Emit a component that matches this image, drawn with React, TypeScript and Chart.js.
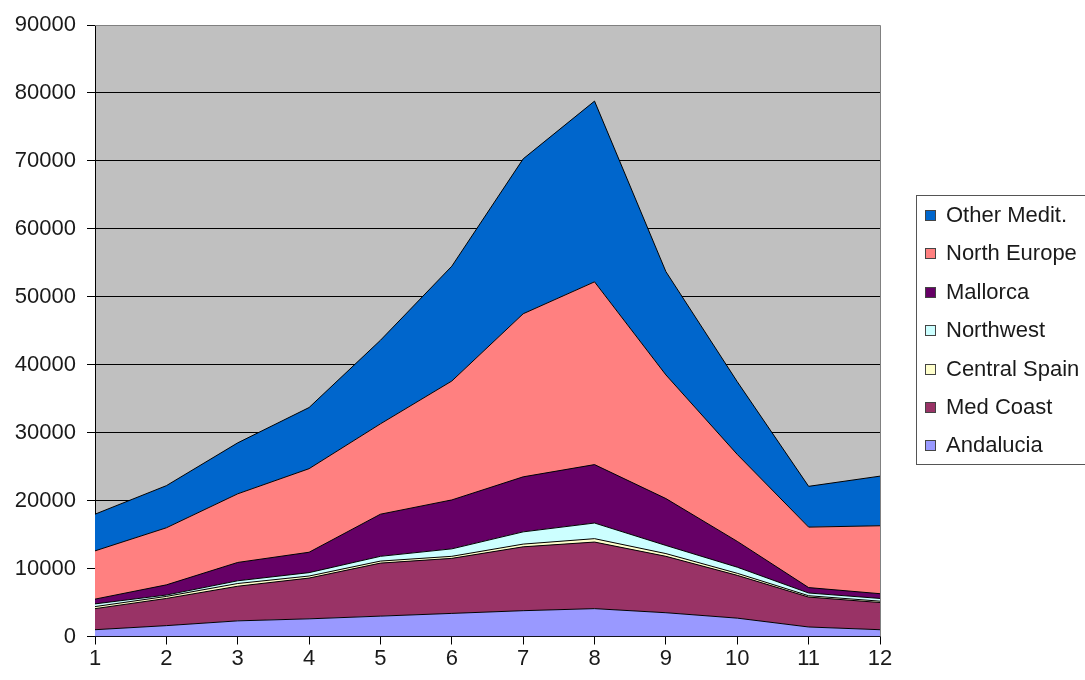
import React, { useEffect, useRef } from "react";
import { Chart, registerables } from "chart.js";

Chart.register(...registerables);

const categories = ["1", "2", "3", "4", "5", "6", "7", "8", "9", "10", "11", "12"];

const andalucia = [1000, 1600, 2300, 2600, 3000, 3400, 3800, 4100, 3500, 2700, 1400, 1000];
const medCoast = [3100, 4000, 5100, 6000, 7800, 8100, 9400, 9800, 8300, 6300, 4400, 4000];
const centralSpain = [300, 300, 400, 300, 300, 300, 400, 500, 400, 300, 200, 200];
const northwest = [400, 200, 400, 500, 700, 1100, 1800, 2300, 1200, 900, 400, 400];
const mallorca = [700, 1500, 2700, 3000, 6200, 7200, 8100, 8600, 6900, 3800, 800, 700];
const northEurope = [7100, 8400, 10100, 12300, 13300, 17500, 24000, 26900, 18200, 12800, 8900, 10000];
const otherMedit = [5400, 6200, 7500, 9000, 12300, 16900, 22800, 26600, 15200, 10700, 6000, 7300];

const seriesNames = ["Andalucia", "Med Coast", "Central Spain", "Northwest", "Mallorca", "North Europe", "Other Medit."];
const seriesData = [andalucia, medCoast, centralSpain, northwest, mallorca, northEurope, otherMedit];
const seriesColors = ["#9999FF", "#993366", "#FFFFCC", "#CCFFFF", "#660066", "#FF8080", "#0066CC"];

const yTicks = [0, 10000, 20000, 30000, 40000, 50000, 60000, 70000, 80000, 90000];

const FONT = "'Liberation Sans', Arial, sans-serif";

export default function App() {
  const ref = useRef<HTMLCanvasElement>(null);

  useEffect(() => {
    if (!ref.current) return;

    const plotPlugin = {
      id: "plotDecor",
      beforeDraw(chart: any) {
        const { ctx, chartArea } = chart;
        ctx.save();
        ctx.fillStyle = "#FFFFFF";
        ctx.fillRect(0, 0, chart.width, chart.height);
        ctx.fillStyle = "#C0C0C0";
        ctx.fillRect(chartArea.left, chartArea.top, chartArea.right - chartArea.left, chartArea.bottom - chartArea.top);
        ctx.restore();
      },
      afterDraw(chart: any) {
        const { ctx, chartArea } = chart;
        ctx.save();
        // top and right plot border
        ctx.strokeStyle = "#808080";
        ctx.lineWidth = 1;
        ctx.beginPath();
        ctx.moveTo(chartArea.left, Math.round(chartArea.top) + 0.5);
        ctx.lineTo(Math.round(chartArea.right) + 0.5, Math.round(chartArea.top) + 0.5);
        ctx.lineTo(Math.round(chartArea.right) + 0.5, chartArea.bottom);
        ctx.stroke();

        // legend
        const boxX = 916.5;
        const boxY = 195.5;
        const boxH = 269;
        ctx.fillStyle = "#FFFFFF";
        ctx.fillRect(boxX, boxY, 300, boxH);
        ctx.strokeStyle = "#555555";
        ctx.strokeRect(boxX, boxY, 300, boxH);
        ctx.font = `22px ${FONT}`;
        ctx.textBaseline = "middle";
        ctx.textAlign = "left";
        const n = seriesNames.length;
        for (let i = 0; i < n; i++) {
          const idx = n - 1 - i;
          const cy = 215 + i * 38.4;
          ctx.fillStyle = seriesColors[idx];
          ctx.fillRect(925.5, Math.round(cy - 5) + 0.5, 10, 10);
          ctx.strokeStyle = "#444444";
          ctx.strokeRect(925.5, Math.round(cy - 5) + 0.5, 10, 10);
          ctx.fillStyle = "#1a1a1a";
          ctx.fillText(seriesNames[idx], 946, cy + 1);
        }
        ctx.restore();
      },
    };

    const chart = new Chart(ref.current, {
      type: "line",
      data: {
        labels: categories,
        datasets: seriesData.map((d, i) => ({
          label: seriesNames[i],
          data: d,
          backgroundColor: seriesColors[i],
          borderColor: "#000000",
          borderWidth: 1,
          fill: i === 0 ? "origin" : "-1",
          pointRadius: 0,
          tension: 0,
        })),
      },
      options: {
        responsive: false,
        animation: false,
        devicePixelRatio: 1,
        layout: { padding: { top: 25, right: 205, left: 0, bottom: 0 } },
        plugins: {
          legend: { display: false },
          tooltip: { enabled: false },
        },
        scales: {
          x: {
            type: "category",
            offset: false,
            grid: { drawOnChartArea: false, drawTicks: true, tickLength: 8, color: "#000000", tickColor: "#000000" },
            border: { color: "#000000", width: 1 },
            ticks: { color: "#1a1a1a", font: { family: FONT, size: 22 }, padding: 1, maxRotation: 0, autoSkip: false },
            afterFit: (s: any) => {
              s.height = 43.5;
            },
          },
          y: {
            stacked: true,
            min: 0,
            max: 90000,
            afterBuildTicks: (s: any) => {
              s.ticks = yTicks.map((v) => ({ value: v }));
            },
            ticks: {
              color: "#1a1a1a",
              font: { family: FONT, size: 22 },
              padding: 11,
              callback: (v: any) => String(v),
            },
            grid: {
              color: (c: any) => (c.tick && c.tick.value === 90000 ? "#808080" : "#000000"),
              tickColor: "#000000",
              tickLength: 8,
              lineWidth: 1,
            },
            border: { color: "#000000", width: 1 },
            afterFit: (s: any) => {
              s.width = 95;
            },
          },
        },
      },
      plugins: [plotPlugin],
    } as any);

    return () => chart.destroy();
  }, []);

  return (
    <div style={{ position: "fixed", left: 0, top: 0, width: 1085, height: 680, overflow: "hidden", background: "#fff" }}>
      <canvas ref={ref} width={1085} height={680} style={{ display: "block", width: 1085, height: 680 }} />
    </div>
  );
}
